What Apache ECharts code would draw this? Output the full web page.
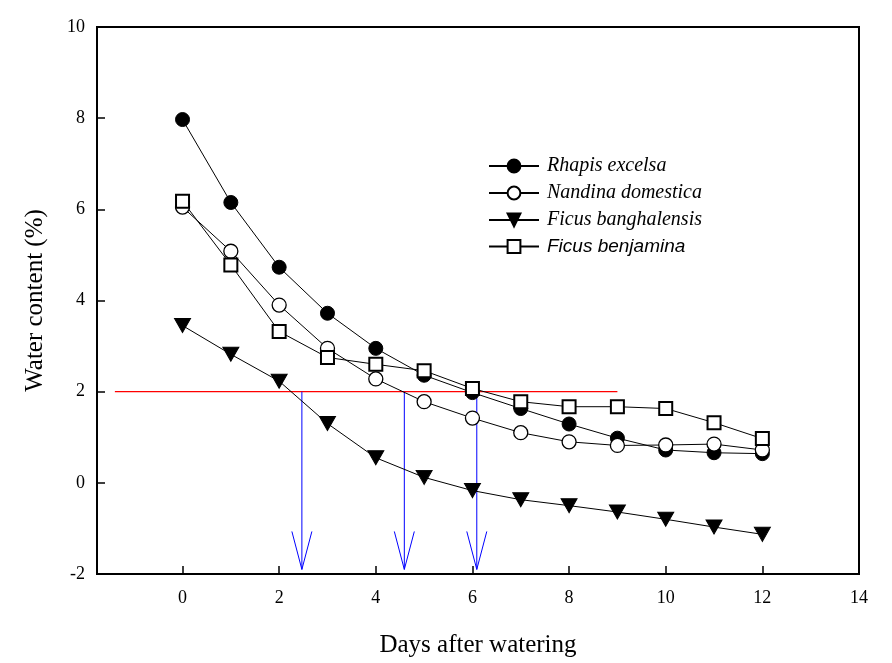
<!DOCTYPE html>
<html>
<head>
<meta charset="utf-8">
<script src="https://cdn.jsdelivr.net/npm/echarts@6/dist/echarts.min.js"></script>
<style>html,body{margin:0;padding:0;background:#fff}#c{width:892px;height:663px}</style>
</head>
<body>
<div id="c"></div>
<script>
const days = [0,1,2,3,4,5,6,7,8,9,10,11,12];
const rhapis = [7.97,6.15,4.73,3.72,2.95,2.36,1.98,1.63,1.29,0.98,0.72,0.66,0.64];
const nandina = [6.05,5.08,3.9,2.95,2.28,1.78,1.42,1.10,0.90,0.82,0.83,0.85,0.72];
const banghalensis = [3.45,2.82,2.23,1.30,0.55,0.12,-0.17,-0.37,-0.50,-0.64,-0.80,-0.97,-1.13];
const benjamina = [6.18,4.78,3.32,2.75,2.60,2.46,2.07,1.78,1.67,1.67,1.63,1.32,0.97];
const seriesNames = ['Rhapis excelsa','Nandina domestica','Ficus banghalensis','Ficus benjamina'];
const xTicks = [0,2,4,6,8,10,12,14];
const threshold = 2;
const thresholdRange = [-1.4, 9];
const arrowDays = [2.47, 4.59, 6.09];
const arrowEnd = -1.9;

const pair = arr => days.map((d,i)=>[d,arr[i]]);
const serif = 'Liberation Serif';
const chart = echarts.init(document.getElementById('c'));
const base = {type:'line', lineStyle:{color:'#000',width:1}, symbolSize:14, z:5};
chart.setOption({
  animation:false,
  grid:{left:97,right:33,top:27,bottom:89,show:true,borderColor:'#000',borderWidth:2,backgroundColor:'transparent'},
  legend:{
    orient:'vertical', left:483, top:151, itemWidth:50, itemHeight:16, itemGap:7,
    textStyle:{fontSize:20,color:'#000',fontFamily:serif,fontStyle:'italic',padding:[0,0,0,3]},
    data:[
      {name:seriesNames[0]},
      {name:seriesNames[1]},
      {name:seriesNames[2]},
      {name:seriesNames[3], textStyle:{fontFamily:'Liberation Sans',fontStyle:'italic',fontSize:19}}
    ]
  },
  xAxis:{
    type:'value', min:-1.77, max:14,
    name:'Days after watering', nameLocation:'middle', nameGap:59,
    nameTextStyle:{fontFamily:serif,fontSize:25,color:'#000'},
    axisLine:{onZero:false,lineStyle:{color:'#000',width:2}},
    axisTick:{inside:true,length:8,lineStyle:{color:'#000',width:1.5},customValues:xTicks},
    axisLabel:{fontFamily:serif,fontSize:18,color:'#000',margin:15,customValues:xTicks},
    splitLine:{show:false}
  },
  yAxis:{
    type:'value', min:-2, max:10, interval:2,
    name:'Water content (%)', nameLocation:'middle', nameGap:49,
    nameTextStyle:{fontFamily:serif,fontSize:25,color:'#000'},
    axisLine:{onZero:false,lineStyle:{color:'#000',width:2}},
    axisTick:{inside:true,length:8,lineStyle:{color:'#000',width:1.5}},
    axisLabel:{fontFamily:serif,fontSize:18,color:'#000',margin:12},
    splitLine:{show:false}
  },
  series:[
    {type:'line', data:[[thresholdRange[0],threshold],[thresholdRange[1],threshold]], symbol:'none',
     lineStyle:{color:'#ff0000',width:1.2}, z:2, silent:true},
    {type:'custom', data:arrowDays.map(d=>[d]), z:3, silent:true,
     renderItem:function(params, api){
       const top = api.coord([api.value(0), threshold]);
       const bot = api.coord([api.value(0), arrowEnd]);
       return {type:'group', children:[
         {type:'line', shape:{x1:top[0],y1:top[1],x2:bot[0],y2:bot[1]}, style:{stroke:'#0000ff',lineWidth:1}},
         {type:'polyline', shape:{points:[[bot[0]-10,bot[1]-38],[bot[0],bot[1]],[bot[0]+10,bot[1]-38]]}, style:{stroke:'#0000ff',lineWidth:1,fill:null}}
       ]};
     }},
    Object.assign({}, base, {name:seriesNames[0], data:pair(rhapis), symbol:'circle', itemStyle:{color:'#000',borderColor:'#000',borderWidth:1}}),
    Object.assign({}, base, {name:seriesNames[1], data:pair(nandina), symbol:'circle', itemStyle:{color:'#fff',borderColor:'#000',borderWidth:1.3}}),
    Object.assign({}, base, {name:seriesNames[2], data:pair(banghalensis), symbol:'triangle', symbolRotate:180, symbolSize:[16,14], itemStyle:{color:'#000',borderColor:'#000',borderWidth:1}}),
    Object.assign({}, base, {name:seriesNames[3], data:pair(benjamina), symbol:'rect', symbolSize:13, itemStyle:{color:'#fff',borderColor:'#000',borderWidth:2}})
  ]
});
</script>
</body>
</html>
